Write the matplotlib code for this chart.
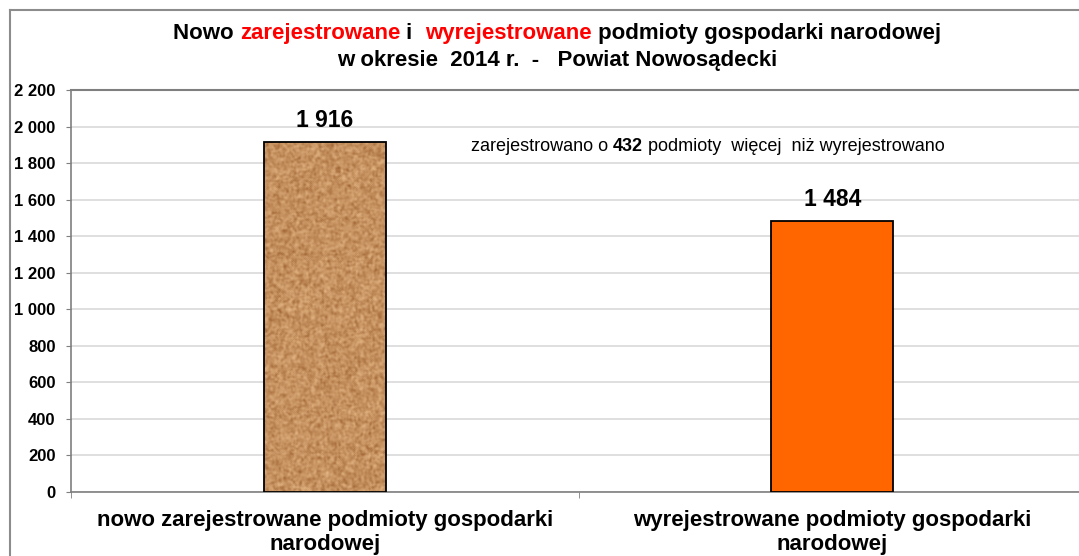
import numpy as np
import matplotlib
matplotlib.use("Agg")
import matplotlib.pyplot as plt
from matplotlib.ticker import FuncFormatter, MultipleLocator, FixedLocator

# data
categories = ["nowo zarejestrowane podmioty gospodarki\nnarodowej",
              "wyrejestrowane podmioty gospodarki\nnarodowej"]
values = [1916, 1484]
value_labels = ["1 916", "1 484"]
note_parts = [("zarejestrowano o ", "normal"), ("432", "bold"),
              (" podmioty  więcej  niż wyrejestrowano", "normal")]
title_parts = [("Nowo ", "black"), ("zarejestrowane", "red"), (" i  ", "black"),
               ("wyrejestrowane", "red"), (" podmioty gospodarki narodowej", "black")]
title_line2 = "w okresie  2014 r.  -   Powiat Nowosądecki"

W, H = 1079, 556
plt.rcParams["font.family"] = ["Liberation Sans", "DejaVu Sans"]
fig = plt.figure(figsize=(W / 100, H / 100), dpi=100)

ax = fig.add_axes([71 / W, 64 / H, 1015 / W, 402 / H])
x = np.arange(len(values))
bars = ax.bar(x, values, width=0.24, edgecolor="black", linewidth=1.3,
              color=["#C8925C", "#FF6600"], zorder=3)

# cork-like texture on the first bar (styling only)
rng = np.random.default_rng(3)
noise = rng.random((360, 130))
for _ in range(2):
    noise = (noise + np.roll(noise, 1, 0) + np.roll(noise, -1, 0)
             + np.roll(noise, 1, 1) + np.roll(noise, -1, 1)) / 5
noise = (noise - noise.min()) / (noise.max() - noise.min())
light = np.array([0.91, 0.74, 0.54])
darkc = np.array([0.62, 0.38, 0.19])
tex = darkc[None, None, :] + noise[..., None] ** 0.8 * (light - darkc)[None, None, :]
tex = np.clip(tex, 0, 1)
b0 = bars[0]
im = ax.imshow(tex, extent=(b0.get_x(), b0.get_x() + b0.get_width(), 0, b0.get_height()),
               aspect="auto", zorder=3.5, interpolation="bilinear")
im.set_clip_path(b0)
b0.set_facecolor("none")
b0.set_zorder(4)

ax.set_xlim(-0.5, 1.5)
ax.set_ylim(0, 2200)
ax.yaxis.set_major_locator(MultipleLocator(200))
ax.yaxis.set_major_formatter(FuncFormatter(lambda v, p: f"{int(v):,}".replace(",", " ")))
ax.grid(axis="y", color="#D9D9D9", linewidth=1.2, zorder=0)
ax.set_axisbelow(True)
ax.spines["right"].set_visible(False)
ax.spines["top"].set_color("#7F7F7F")
ax.spines["top"].set_linewidth(1.5)
for s in ["left", "bottom"]:
    ax.spines[s].set_color("#7F7F7F")
    ax.spines[s].set_linewidth(1.2)
ax.tick_params(axis="y", direction="out", length=3.6, color="#7F7F7F", pad=7.5,
               labelsize=12)
for lab in ax.get_yticklabels():
    lab.set_fontweight("bold")
ax.set_xticks(x)
ax.set_xticklabels(categories, fontsize=16, fontweight="bold", linespacing=1.2)
ax.tick_params(axis="x", length=0, pad=13)
ax.xaxis.set_minor_locator(FixedLocator([-0.5, 0.5]))
ax.tick_params(axis="x", which="minor", length=4.5, color="#7F7F7F", direction="out")

for xi, v, lab in zip(x, values, value_labels):
    ax.annotate(lab, (xi, v), xytext=(0, 7), textcoords="offset points",
                ha="center", va="bottom", fontsize=16.5, fontweight="bold")

# outer frame
fig.add_artist(plt.Line2D([10 / W, 10 / W], [0, 1 - 10 / H], transform=fig.transFigure,
                          color="#8C8C8C", lw=1.5))
fig.add_artist(plt.Line2D([10 / W, 1], [1 - 10 / H, 1 - 10 / H], transform=fig.transFigure,
                          color="#8C8C8C", lw=1.5))


def text_w(s, size, weight):
    t = fig.text(0, 0, s + "x", fontsize=size, fontweight=weight)
    w = t.get_window_extent(fig.canvas.get_renderer()).width
    t.remove()
    return w


def place_line(parts, xc, ybase, size, colors=None, weights=None):
    n = len(parts)
    colors = colors or ["black"] * n
    weights = weights or ["bold"] * n
    # advance of each part (measured with a trailing marker so spaces count)
    adv = [text_w(p, size, wt) - text_w("", size, wt) for p, wt in zip(parts, weights)]
    xpos = xc - sum(adv) / 2
    for p, c, wt, a in zip(parts, colors, weights, adv):
        fig.text(xpos / W, 1 - ybase / H, p, fontsize=size, va="baseline", ha="left",
                 color=c, fontweight=wt)
        xpos += a


fig.canvas.draw()
place_line([p[0] for p in title_parts], 557, 39, 16, colors=[p[1] for p in title_parts])
place_line([title_line2], 557, 66, 16)
place_line([p[0] for p in note_parts], 708, 151, 13, weights=[p[1] for p in note_parts])

fig.savefig("out.png", dpi=100)
